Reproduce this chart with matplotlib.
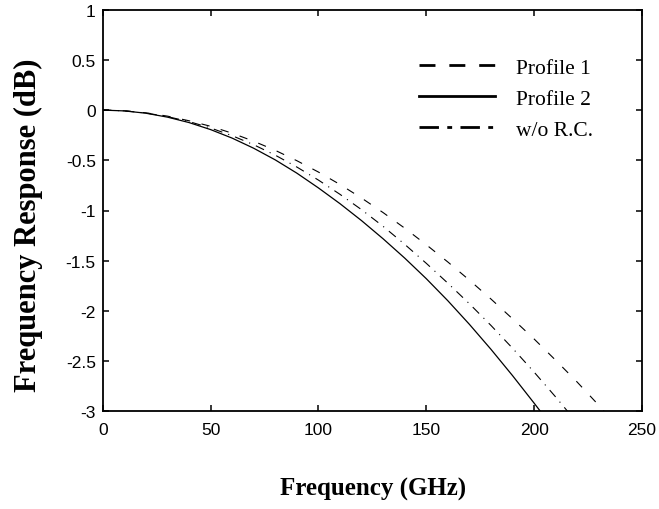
import matplotlib
matplotlib.use("Agg")
import matplotlib.pyplot as plt
from matplotlib.lines import Line2D
from matplotlib.ticker import FormatStrFormatter

plt.rcParams['axes.unicode_minus'] = False
plt.rcParams['lines.scale_dashes'] = False

# Data (frequency in GHz, response in dB)
freq_p1 = [0, 10, 20, 30, 40, 50, 60, 70, 80, 90, 100, 110, 120, 130, 140, 150,
           160, 170, 180, 190, 200, 210, 220, 230, 232.4]
resp_p1 = [0, -0.007, -0.027, -0.060, -0.106, -0.161, -0.230, -0.310, -0.401, -0.504,
           -0.617, -0.741, -0.876, -1.021, -1.176, -1.341, -1.513, -1.694, -1.882,
           -2.079, -2.280, -2.492, -2.710, -2.941, -3.0]

freq_p2 = [0, 10, 20, 30, 40, 50, 60, 70, 80, 90, 100, 110, 120, 130, 140, 150,
           160, 170, 180, 190, 200, 202.9]
resp_p2 = [0, -0.008, -0.031, -0.070, -0.124, -0.194, -0.279, -0.380, -0.496, -0.628,
           -0.775, -0.932, -1.101, -1.282, -1.474, -1.679, -1.899, -2.134, -2.383,
           -2.645, -2.919, -3.0]

freq_rc = [0, 10, 20, 30, 40, 50, 60, 70, 80, 90, 100, 110, 120, 130, 140, 150,
           160, 170, 180, 190, 200, 210, 215.5]
resp_rc = [0, -0.007, -0.029, -0.065, -0.114, -0.178, -0.255, -0.345, -0.449, -0.567,
           -0.697, -0.839, -0.992, -1.158, -1.337, -1.526, -1.724, -1.929, -2.145,
           -2.372, -2.610, -2.858, -3.0]

labels = ["Profile 1", "Profile 2", "w/o R.C."]
xticks = [0, 50, 100, 150, 200, 250]
yticks = [1, 0.5, 0, -0.5, -1, -1.5, -2, -2.5, -3]

W, H = 659, 510
fig = plt.figure(figsize=(W / 100, H / 100), dpi=100)
ax = fig.add_axes([102.7 / W, 1 - 412.3 / H, (642 - 102.7) / W, (412.3 - 10.7) / H])

ax.plot(freq_p1, resp_p1, color='black', lw=0.8, dashes=(6, 8.4))
ax.plot(freq_p2, resp_p2, color='black', lw=0.9, linestyle='-')
ax.plot(freq_rc, resp_rc, color='black', lw=0.8, dashes=(6.5, 4.5, 0.8, 4.5))

ax.set_xlim(0, 250)
ax.set_ylim(-3, 1)
ax.set_xticks(xticks)
ax.set_yticks(yticks)
ax.yaxis.set_major_formatter(FormatStrFormatter('%g'))

for s in ax.spines.values():
    s.set_linewidth(1.3)
    s.set_color('black')
ax.tick_params(direction='in', length=4, width=1.1, top=True, right=True,
               labelsize=12.5, colors='black')
ax.tick_params(axis='x', pad=8)
ax.tick_params(axis='y', pad=5)
for t in ax.get_xticklabels() + ax.get_yticklabels():
    t.set_fontfamily('Liberation Sans')

handles = [
    Line2D([], [], color='black', lw=2.0, dashes=(11.5, 10)),
    Line2D([], [], color='black', lw=2.0, linestyle='-'),
    Line2D([], [], color='black', lw=2.0, dashes=(14, 6, 3.5, 6)),
]
leg = ax.legend(handles, labels, loc='upper left', bbox_to_anchor=(0.5865, 0.88),
                frameon=False, handlelength=3.55, handletextpad=0.95,
                labelspacing=0.5, borderaxespad=0, borderpad=0,
                prop={'family': 'Liberation Serif', 'size': 15.5})

fig.text(373 / W, 1 - 489 / H, "Frequency (GHz)", ha='center', va='center',
         fontsize=18, fontweight='bold', family='Liberation Serif')
fig.text(28 / W, 1 - 225 / H, "Frequency Response (dB)", ha='center', va='center',
         rotation=90, fontsize=22, fontweight='bold', family='Liberation Serif')

fig.savefig("out.png", dpi=100)
